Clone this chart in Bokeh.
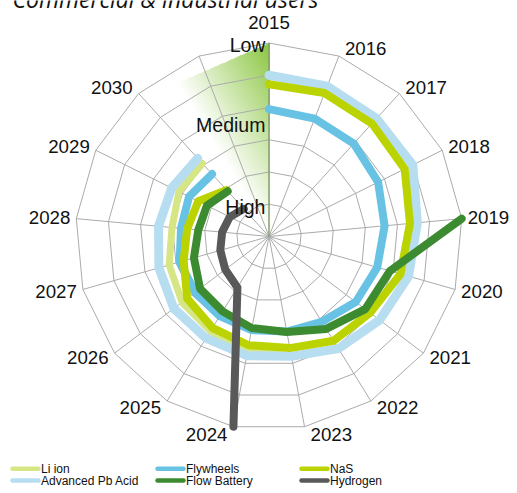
import numpy as np
from bokeh.plotting import figure
from bokeh.models import Range1d
from bokeh.core.properties import value
from bokeh.embed import file_html
from bokeh.resources import INLINE

# ---------------- data ----------------
title = "Commercial & industrial users"
years = ["2015", "2016", "2017", "2018", "2019", "2020", "2021", "2022",
         "2023", "2024", "2025", "2026", "2027", "2028", "2029", "2030"]
level_labels = ["Low", "Medium", "High"]

li_ion = [5.0, 5.0, 4.95, 4.98, 4.62, 4.5, 4.3, 4.09, 3.78, 3.6, 3.45, 3.38, 3.22, 3.02, 3.12, 3.06]
adv_pb_acid = [5.0, 5.0, 4.95, 4.98, 4.62, 4.5, 4.3, 4.09, 3.78, 3.76, 3.71, 3.7, 3.55, 3.44, 3.37, 3.28]
flywheels = [3.95, 3.92, 3.9, 3.78, 3.6, 3.49, 3.37, 3.11, 3.0, 2.95, 2.9, 2.87, 2.88, 2.74, 2.77, 2.62]
nas = [4.72, 4.77, 4.74, 4.7, 4.39, 4.24, 3.93, 3.8, 3.52, 3.43, 3.33, 3.18, 2.75, 2.55, 2.45, 1.95]
flow_battery = [None, None, None, None, 6.0, 3.9, 3.74, 3.37, 3.01, 2.89, 2.73, 2.68, 2.42, 2.2, 2.15, 1.9]
hydrogen = [None, None, None, None, None, None, None, None, None, 6.0, 1.86, 1.7, 1.57, 1.46, 1.36, 1.16]

# shaded "Low -> High" band: spans from the 2015 spoke to the 2030 spoke
band_2015 = 6.0
band_2030 = 5.8

series = [
    ("Li ion", li_ion, "#D6E685", 7),
    ("Advanced Pb Acid", adv_pb_acid, "#B6DEF0", 9),
    ("Flywheels", flywheels, "#68C2E4", 8),
    ("NaS", nas, "#BBD300", 8),
    ("Flow Battery", flow_battery, "#3D8B31", 8),
    ("Hydrogen", hydrogen, "#595959", 8),
]
legend_grid = [("Li ion", 0, 0), ("Flywheels", 1, 0), ("NaS", 2, 0),
               ("Advanced Pb Acid", 0, 1), ("Flow Battery", 1, 1), ("Hydrogen", 2, 1)]

# ---------------- layout ----------------
W, H = 517, 493
CX, CY = 268.5, 236.0       # chart centre in canvas pixels
PX = 32.25                  # pixels per ring
RMAX = 6
N = len(years) + 1          # one blank spoke after 2030

theta = np.arange(N) * 2 * np.pi / N
sin_t, cos_t = np.sin(theta), np.cos(theta)


def dx(px):
    return (px - CX) / PX


def dy(py):
    return (CY - py) / PX


def polar(vals):
    v = np.array([np.nan if a is None else a for a in vals], dtype=float)
    return v * sin_t[:len(v)], v * cos_t[:len(v)]


p = figure(width=W, height=H, x_range=Range1d(dx(0), dx(W)), y_range=Range1d(dy(H), dy(0)),
           output_backend="svg", toolbar_location=None, min_border=0,
           x_axis_location=None, y_axis_location=None)
p.min_border_left = p.min_border_right = p.min_border_top = p.min_border_bottom = 0
p.grid.visible = False
p.outline_line_color = None
p.background_fill_color = "white"
p.border_fill_color = "white"

# ---------------- gradient band ----------------
bx = band_2030 * sin_t[len(years) - 1]
by = band_2030 * cos_t[len(years) - 1]
step = 1.0 / (2 * PX)
xs = np.arange(bx - 0.05, 0.05, step) + step / 2
ys = np.arange(-0.02, band_2015 + 0.05, step) + step / 2
X, Y = np.meshgrid(xs, ys)


def cross(ax, ay, bx_, by_, px_, py_):
    return (bx_ - ax) * (py_ - ay) - (by_ - ay) * (px_ - ax)


A = (0.0, 0.0)
B = (0.0, band_2015)
C = (bx, by)
d1 = cross(*A, *B, X, Y)
d2 = cross(*B, *C, X, Y)
d3 = cross(*C, *A, X, Y)
inside = ((d1 <= 0) & (d2 <= 0) & (d3 <= 0)) | ((d1 >= 0) & (d2 >= 0) & (d3 >= 0))
fa = np.radians(31)
alpha = np.clip((X * np.cos(fa) + Y * np.sin(fa)) / (band_2015 * np.sin(fa)), 0, 1) * inside
ny, nx = X.shape
img = np.empty((ny, nx), dtype=np.uint32)
view = img.view(dtype=np.uint8).reshape((ny, nx, 4))
view[..., 0] = 137
view[..., 1] = 197
view[..., 2] = 62
view[..., 3] = (alpha * 255).astype(np.uint8)
p.image_rgba(image=[img], x=xs[0] - step / 2, y=ys[0] - step / 2, dw=nx * step, dh=ny * step)

# ---------------- grid ----------------
ring_x = [list(k * np.append(sin_t, sin_t[0])) for k in range(1, RMAX + 1)]
ring_y = [list(k * np.append(cos_t, cos_t[0])) for k in range(1, RMAX + 1)]
p.multi_line(ring_x, ring_y, line_color="#ABABAB", line_width=1)
p.segment(x0=np.zeros(N), y0=np.zeros(N), x1=RMAX * sin_t, y1=RMAX * cos_t,
          line_color="#ABABAB", line_width=1)
p.segment(x0=[0], y0=[0], x1=[0], y1=[band_2015], line_color="#6E9A4A", line_width=1)

# ---------------- series ----------------
for name, vals, color, lw in series:
    x, y = polar(vals)
    p.line(x, y, line_color=color, line_width=lw, line_join="round", line_cap="round")

# ---------------- category labels ----------------
font = value("Liberation Sans")
lx = RMAX * sin_t[:len(years)]
ly = RMAX * cos_t[:len(years)]
yoff = -8 * cos_t[:len(years)]
groups = {"center": [], "left": [], "right": []}
for i in range(len(years)):
    s = sin_t[i]
    if abs(s) < 0.05:
        groups["center"].append(i)
    elif s > 0:
        groups["left"].append(i)
    else:
        groups["right"].append(i)
for align, idx in groups.items():
    if not idx:
        continue
    xo = [0 if align == "center" else (6 if align == "left" else -6) for _ in idx]
    yo = [(-21 if align == "center" else yoff[i]) for i in idx]
    p.text(x=[lx[i] for i in idx], y=[ly[i] for i in idx], text=[years[i] for i in idx],
           x_offset=xo, y_offset=yo, text_align=align, text_baseline="middle",
           text_font=font, text_font_size="18.7px", text_color="#111111")

# ---------------- level labels ----------------
p.text(x=[-0.11] * 3, y=[5.94, 3.46, 0.915], text=level_labels,
       text_align="right", text_baseline="middle",
       text_font=font, text_font_size="19.5px", text_color="#111111")

# ---------------- title (cut at the top, as in the source) ----------------
p.text(x=[dx(12)], y=[dy(-2)], text=[title], text_align="left", text_baseline="middle",
       text_font=value("Open Sans"), text_font_style="italic", text_font_size="23px",
       text_color="#111111")

# ---------------- legend ----------------
col_px = [12, 157, 301]
row_px = [468.3, 480.0]
style = {name: (color, lw) for name, _, color, lw in series}
for name, c, r in legend_grid:
    color, _ = style[name]
    p.segment(x0=[dx(col_px[c])], y0=[dy(row_px[r])], x1=[dx(col_px[c] + 26)], y1=[dy(row_px[r])],
              line_color=color, line_width=4.5, line_cap="round")
    p.text(x=[dx(col_px[c] + 28.5)], y=[dy(row_px[r])], text=[name], text_align="left",
           text_baseline="middle", text_font=font, text_font_size="12px", text_color="#111111")

open("out.html", "w").write(file_html(p, INLINE))
